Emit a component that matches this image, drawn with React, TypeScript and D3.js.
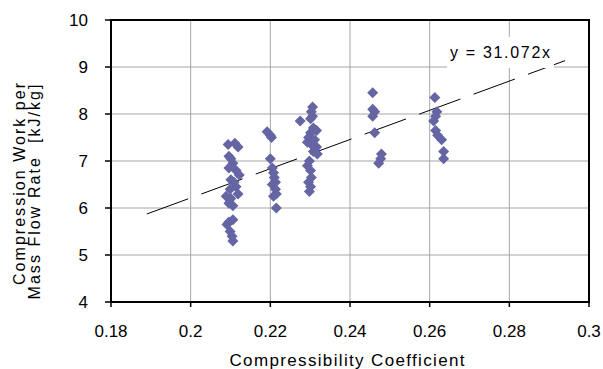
import React from "react";
import * as d3 from "d3";

// compressibility coefficient (x) and compression work per mass flow rate (y)
const coeffs = [
  // ~0.21
  0.2094, 0.2111, 0.2119, 0.2096, 0.2101, 0.2106, 0.2096, 0.2114, 0.2122, 0.2101, 0.2109, 0.2114,
  0.2099, 0.2119, 0.2089, 0.2101, 0.2096, 0.2106, 0.2106, 0.2096, 0.2091, 0.2099, 0.2104, 0.2106,
  // ~0.22
  0.2192, 0.22, 0.2203, 0.22, 0.2205, 0.2208, 0.221, 0.2213, 0.2205, 0.2213, 0.2215, 0.2208, 0.2215,
  // ~0.23
  0.2275, 0.2306, 0.2303, 0.2306, 0.2301, 0.2308, 0.2316, 0.2301, 0.2296, 0.2311, 0.2293, 0.2303,
  0.2316, 0.2308, 0.2318, 0.2298, 0.2293, 0.2301, 0.2303, 0.2296, 0.2301, 0.2298,
  // ~0.246
  0.2457, 0.2457, 0.2462, 0.2457, 0.2462, 0.2479, 0.2477, 0.2472,
  // ~0.261
  0.2613, 0.2618, 0.2615, 0.261, 0.2615, 0.262, 0.263, 0.2635, 0.2635,
];

const work = [
  7.35, 7.38, 7.3, 7.1, 7.05, 6.95, 6.85, 6.8, 6.7, 6.6, 6.55, 6.45,
  6.4, 6.3, 6.25, 6.2, 6.1, 6.05, 5.75, 5.7, 5.65, 5.5, 5.4, 5.3,
  7.62, 7.55, 7.5, 7.05, 6.85, 6.75, 6.65, 6.55, 6.5, 6.4, 6.3, 6.25, 6.0,
  7.85, 8.15, 8.05, 7.95, 7.9, 7.7, 7.65, 7.6, 7.5, 7.45, 7.4, 7.35,
  7.3, 7.2, 7.15, 7.0, 6.9, 6.8, 6.65, 6.55, 6.45, 6.35,
  8.45, 8.1, 8.05, 7.95, 7.6, 7.15, 7.05, 6.95,
  8.35, 8.05, 7.95, 7.85, 7.65, 7.55, 7.45, 7.2, 7.05,
];

const xTicks = [0.18, 0.2, 0.22, 0.24, 0.26, 0.28, 0.3];
const yTicks = [4, 5, 6, 7, 8, 9, 10];

// linear trendline through origin
const slope = 31.072;
const trendRange = [0.189, 0.294];

const width = 603;
const height = 369;
const margin = { top: 20, right: 14, bottom: 67, left: 111 };

const App = () => {
  const x = d3
    .scaleLinear()
    .domain([0.18, 0.3])
    .range([margin.left, width - margin.right]);
  const y = d3
    .scaleLinear()
    .domain([4, 10])
    .range([height - margin.bottom, margin.top]);

  const trendLine = d3
    .line<number>()
    .x((d) => x(d))
    .y((d) => y(slope * d));

  const diamond = "M0,-5.5L5.5,0L0,5.5L-5.5,0Z";
  const font = "'Liberation Sans', Arial, sans-serif";

  return (
    <svg
      width={width}
      height={height}
      style={{ position: "absolute", left: 0, top: 0, background: "#fff" }}
      fontFamily={font}
    >
      {/* gridlines */}
      {yTicks.slice(1, -1).map((t) => (
        <line key={"gy" + t} x1={x(0.18)} x2={x(0.3)} y1={y(t)} y2={y(t)} stroke="#a6a6a6" />
      ))}
      {xTicks.slice(1, -1).map((t) => (
        <line key={"gx" + t} x1={x(t)} x2={x(t)} y1={y(4)} y2={y(10)} stroke="#a6a6a6" />
      ))}

      {/* trendline */}
      <path
        d={trendLine(trendRange) || ""}
        fill="none"
        stroke="#000"
        strokeWidth={1}
        strokeDasharray="44,14"
      />

      {/* points */}
      {coeffs.map((c, i) => (
        <path
          key={i}
          d={diamond}
          transform={`translate(${x(c)},${y(work[i])})`}
          fill="#6565a3"
        />
      ))}

      {/* equation label */}
      <rect x={447} y={37} width={107} height={31} fill="#fff" />
      <text x={450} y={58} fontSize={16} textLength={100} lengthAdjust="spacing">
        y = 31.072x
      </text>

      {/* frame */}
      <rect
        x={x(0.18)}
        y={y(10)}
        width={x(0.3) - x(0.18)}
        height={y(4) - y(10)}
        fill="none"
        stroke="#000"
        strokeWidth={2}
      />

      {/* y axis ticks */}
      {yTicks.map((t) => (
        <g key={"ty" + t}>
          <line x1={x(0.18) - 6} x2={x(0.18)} y1={y(t)} y2={y(t)} stroke="#000" strokeWidth={1.5} />
          <text x={88} y={y(t) + 6} fontSize={17} textAnchor="end">
            {t}
          </text>
        </g>
      ))}

      {/* x axis ticks */}
      {xTicks.map((t) => (
        <g key={"tx" + t}>
          <line x1={x(t)} x2={x(t)} y1={y(4)} y2={y(4) + 5} stroke="#000" strokeWidth={1.5} />
          <text x={x(t)} y={337} fontSize={17} textAnchor="middle">
            {d3.format("")(t)}
          </text>
        </g>
      ))}

      {/* axis titles */}
      <text
        x={347}
        y={366}
        fontSize={17}
        textAnchor="middle"
        textLength={235}
        lengthAdjust="spacing"
      >
        Compressibility Coefficient
      </text>
      <text
        transform="translate(24.5,184) rotate(-90)"
        fontSize={16}
        textAnchor="middle"
        textLength={202}
        lengthAdjust="spacing"
      >
        Compression Work per
      </text>
      <text
        transform="translate(39.5,192) rotate(-90)"
        fontSize={16}
        textAnchor="middle"
        textLength={215}
        lengthAdjust="spacing"
      >
        {"Mass Flow Rate\u00a0\u00a0[kJ/kg]"}
      </text>
    </svg>
  );
};

export default App;
